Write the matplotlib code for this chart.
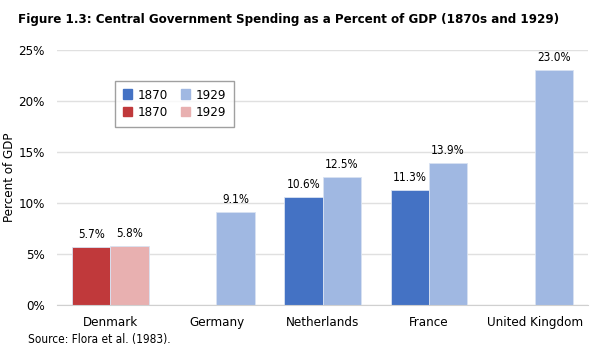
import numpy as np
import matplotlib.pyplot as plt
from matplotlib.patches import Patch

plt.rcParams['font.family'] = ['DejaVu Sans']
plt.rcParams['font.stretch'] = 'condensed'

paises = ['Denmark', 'Germany', 'Netherlands', 'France', 'United Kingdom']
gasto_1870 = [5.7, np.nan, 10.6, 11.3, np.nan]
gasto_1929 = [5.8, 9.1, 12.5, 13.9, 23.0]
anios = ['1870', '1929']

azul_osc = '#4472C4'
azul_cla = '#A0B8E2'
rojo_osc = '#C0393B'
rojo_cla = '#E8B0B0'

fig = plt.figure(figsize=(6.02, 3.61), dpi=100)
ax = fig.add_axes([0.095, 0.155, 0.882, 0.707])

x = np.arange(len(paises))
w = 0.36
for i in range(len(paises)):
    # Dinamarca va en rojo, el resto en azul
    c1 = rojo_osc if i == 0 else azul_osc
    c2 = rojo_cla if i == 0 else azul_cla
    if not np.isnan(gasto_1870[i]):
        ax.bar(x[i] - w/2, gasto_1870[i], w, color=c1, edgecolor='#D8E2F2', linewidth=0.6)
        ax.text(x[i] - w/2, gasto_1870[i] + 0.6, f'{gasto_1870[i]:.1f}%', ha='center',
                va='bottom', fontsize=8.5)
    ax.bar(x[i] + w/2, gasto_1929[i], w, color=c2, edgecolor='#D8E2F2', linewidth=0.6)
    ax.text(x[i] + w/2, gasto_1929[i] + 0.6, f'{gasto_1929[i]:.1f}%', ha='center',
            va='bottom', fontsize=8.5)

ax.set_xlim(-0.5, len(paises) - 0.5)
ax.set_ylim(0, 25)
ax.set_yticks(np.arange(0, 26, 5))
ax.set_yticklabels([f'{v}%' for v in range(0, 26, 5)], fontsize=9.5)
ax.set_xticks(x)
ax.set_xticklabels(paises, fontsize=9.5)
ax.tick_params(length=0, pad=9)
ax.tick_params(axis='x', pad=8)
ax.grid(axis='y', color='#E0E0E0', linewidth=1)
ax.set_axisbelow(True)
for s in ['top', 'right', 'left']:
    ax.spines[s].set_visible(False)
ax.spines['bottom'].set_color('#D0D0D0')
ax.set_ylabel('Percent of GDP', fontsize=9.5)
ax.yaxis.set_label_coords(-0.077, 0.5)

# leyenda: columnas de 1870 y 1929
handles = [Patch(color=azul_osc), Patch(color=rojo_osc),
           Patch(color=azul_cla), Patch(color=rojo_cla)]
labels = [anios[0], anios[0], anios[1], anios[1]]
leg = ax.legend(handles, labels, ncol=2, loc='upper left', bbox_to_anchor=(0.097, 0.905),
                fontsize=9.5, frameon=True, fancybox=False, handlelength=0.7,
                handleheight=0.7, columnspacing=1.0, handletextpad=0.4,
                borderpad=0.6, labelspacing=0.35)
leg.get_frame().set_edgecolor('#888888')
leg.get_frame().set_linewidth(1)

fig.text(0.03, 0.945, 'Figure 1.3: Central Government Spending as a Percent of GDP (1870s and 1929)',
         fontsize=9.5, fontweight='bold', va='center')
fig.text(0.047, 0.06, 'Source: Flora et al. (1983).', fontsize=8.5, va='center')

fig.savefig('out.png', dpi=100)
